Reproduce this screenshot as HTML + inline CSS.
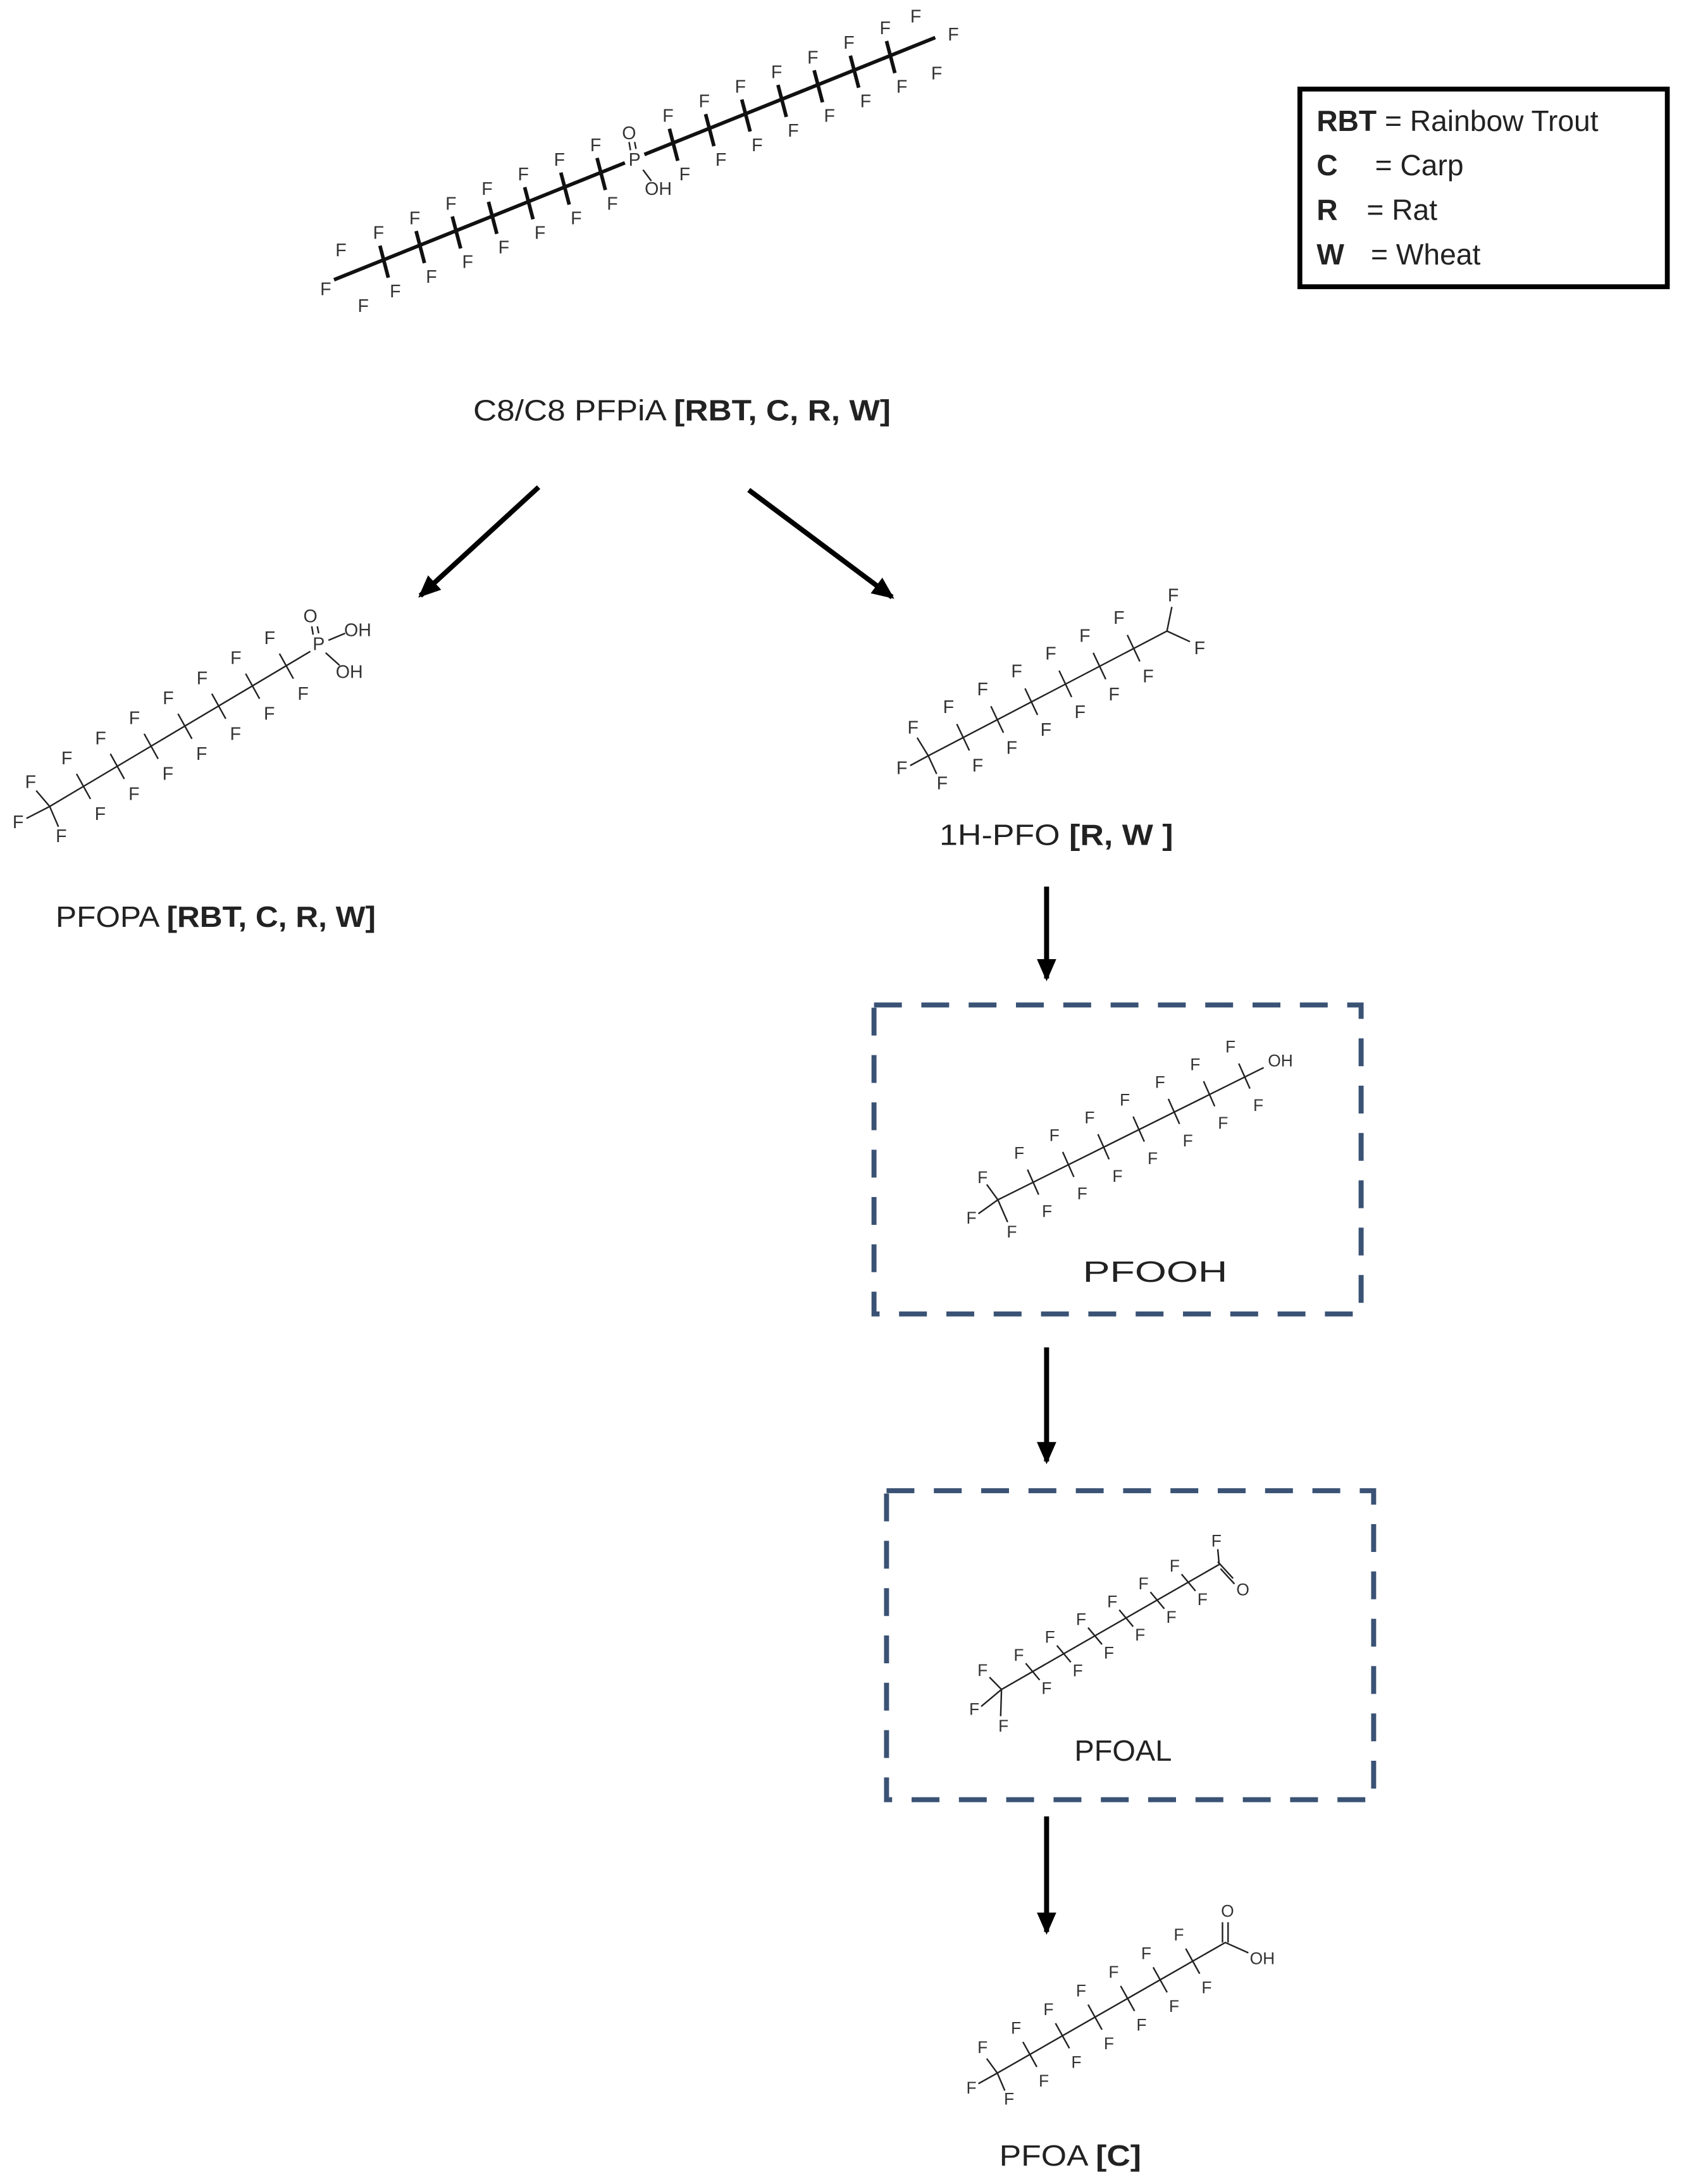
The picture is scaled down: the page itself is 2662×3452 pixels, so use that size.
<!DOCTYPE html>
<html><head><meta charset="utf-8"><style>
html,body{margin:0;padding:0;background:#fff}
svg{display:block}
.f{font-family:"Liberation Sans",sans-serif;font-size:13px;fill:#333;text-anchor:middle;dominant-baseline:central}
.s{font-size:12px}
.l{font-family:"Liberation Sans",sans-serif;font-size:21px;fill:#222}
.b{font-weight:bold}
.bd{stroke:#222;fill:none;stroke-width:1.1}
.tk{stroke:#111;fill:none;stroke-width:2.6}
.ar{stroke:#000;stroke-width:3.6;fill:none}
.dash{stroke:#3a5274;stroke-width:3.6;fill:none;stroke-dasharray:20 14}
</style></head><body>
<svg width="2662" height="3452" viewBox="0 0 1210 1569.09" xmlns="http://www.w3.org/2000/svg">
<defs><marker id="ah" markerWidth="16" markerHeight="14" refX="14" refY="7" orient="auto" markerUnits="userSpaceOnUse"><path d="M0,0 L16,7 L0,14 Z" fill="#000"/></marker></defs>

<!-- Legend -->
<rect x="934" y="64" width="264" height="142" fill="none" stroke="#000" stroke-width="3.5"/>
<text class="l" x="946" y="94"><tspan class="b">RBT</tspan> = Rainbow Trout</text>
<text class="l" x="946" y="126"><tspan class="b">C</tspan></text><text class="l" x="988" y="126">= Carp</text>
<text class="l" x="946" y="158"><tspan class="b">R</tspan></text><text class="l" x="982" y="158">= Rat</text>
<text class="l" x="946" y="190"><tspan class="b">W</tspan></text><text class="l" x="985" y="190">= Wheat</text>

<!-- Top molecule -->
<path class="tk" d="M240,201 L449,117 M463,111 L672,27"/>
<path class="tk" d="M273,176.5L279,199.5M299,166L305,189M325,155.5L331,178.5M351,145L357,168M377,134.5L383,157.5M403,124L409,147M429,113.5L435,136.5M481,92.5L487,115.5M507,82L513,105M533,71.5L539,94.5M559,61L565,84M585,50.5L591,73.5M611,40L617,63M637,29.5L643,52.5"/>
<path class="bd" d="M453,108 L452,102 M457,107 L456,102 M462,122 L468,130"/>
<g class="f">
<text x="245" y="180">F</text><text x="234" y="208">F</text><text x="261" y="220">F</text>
<text x="272" y="167.5">F</text><text x="284" y="209.5">F</text>
<text x="298" y="157">F</text><text x="310" y="199">F</text>
<text x="324" y="146.5">F</text><text x="336" y="188.5">F</text>
<text x="350" y="136">F</text><text x="362" y="178">F</text>
<text x="376" y="125.5">F</text><text x="388" y="167.5">F</text>
<text x="402" y="115">F</text><text x="414" y="157">F</text>
<text x="428" y="104.5">F</text><text x="440" y="146.5">F</text>
<text x="456" y="115">P</text><text x="452" y="96">O</text><text x="473" y="136">OH</text>
<text x="480" y="83.5">F</text><text x="492" y="125.5">F</text>
<text x="506" y="73">F</text><text x="518" y="115">F</text>
<text x="532" y="62.5">F</text><text x="544" y="104.5">F</text>
<text x="558" y="52">F</text><text x="570" y="94">F</text>
<text x="584" y="41.5">F</text><text x="596" y="83.5">F</text>
<text x="610" y="31">F</text><text x="622" y="73">F</text>
<text x="636" y="20.5">F</text><text x="648" y="62.5">F</text>
<text x="658" y="12">F</text><text x="685" y="25">F</text><text x="673" y="53">F</text>
</g>
<text class="l" x="340" y="302" textLength="300" lengthAdjust="spacingAndGlyphs">C8/C8  PFPiA  <tspan class="b">[RBT, C, R, W]</tspan></text>

<!-- arrows -->
<line class="ar" x1="387" y1="350" x2="302" y2="428" marker-end="url(#ah)"/>
<line class="ar" x1="538" y1="352" x2="641" y2="429" marker-end="url(#ah)"/>
<line class="ar" x1="752" y1="637" x2="752" y2="703" marker-end="url(#ah)"/>
<line class="ar" x1="752" y1="968" x2="752" y2="1050" marker-end="url(#ah)"/>
<line class="ar" x1="752" y1="1305" x2="752" y2="1388" marker-end="url(#ah)"/>

<!-- PFOPA -->
<path class="bd" d="M35.7,579.4 L223,468 M35.7,579.4L26,568 M35.7,579.4L19,588 M35.7,579.4L42,594 M55,556L65,574M79.3,541.6L89.3,559.6M103.6,527.2L113.6,545.2M127.9,512.8L137.9,530.8M152.2,498.4L162.2,516.4M176.5,484L186.5,502M200.8,469.6L210.8,487.6 M225,456L224,450 M229,455L228,450 M236,460L248,455 M234,469L244,478"/>
<g class="f">
<text x="22" y="562">F</text><text x="13" y="591">F</text><text x="44" y="601">F</text>
<text x="48" y="545">F</text><text x="72" y="585">F</text>
<text x="72.3" y="530.6">F</text><text x="96.3" y="570.6">F</text>
<text x="96.6" y="516.2">F</text><text x="120.6" y="556.2">F</text>
<text x="120.9" y="501.8">F</text><text x="144.9" y="541.8">F</text>
<text x="145.2" y="487.4">F</text><text x="169.2" y="527.4">F</text>
<text x="169.5" y="473">F</text><text x="193.5" y="513">F</text>
<text x="193.8" y="458.6">F</text><text x="217.8" y="498.6">F</text>
<text x="229" y="463">P</text><text x="223" y="443">O</text><text x="257" y="453">OH</text><text x="251" y="483">OH</text>
</g>
<text class="l" x="40" y="666" textLength="230" lengthAdjust="spacingAndGlyphs">PFOPA  <tspan class="b">[RBT, C, R, W]</tspan></text>

<!-- 1H-PFO -->
<path class="bd" d="M667,543 L838.5,453.4 L842,436 M838.5,453.4 L855,461 M667,543L659,530 M667,543L654,550 M667,543L673,556 M687.5,520.2L696.5,539.2M712,507.4L721,526.4M736.5,494.6L745.5,513.6M761,481.8L770,500.8M785.5,469L794.5,488M810,456.2L819,475.2"/>
<g class="f">
<text x="656" y="523">F</text><text x="648" y="552">F</text><text x="677" y="563">F</text>
<text x="681.5" y="508.2">F</text><text x="702.5" y="550.2">F</text>
<text x="706" y="495.4">F</text><text x="727" y="537.4">F</text>
<text x="730.5" y="482.6">F</text><text x="751.5" y="524.6">F</text>
<text x="755" y="469.8">F</text><text x="776" y="511.8">F</text>
<text x="779.5" y="457">F</text><text x="800.5" y="499">F</text>
<text x="804" y="444.2">F</text><text x="825" y="486.2">F</text>
<text x="843" y="428">F</text><text x="862" y="466">F</text>
</g>
<text class="l" x="675" y="607" textLength="168" lengthAdjust="spacingAndGlyphs">1H-PFO  <tspan class="b">[R, W ]</tspan></text>

<!-- PFOOH box -->
<rect class="dash" x="628" y="722" width="350" height="222"/>
<path class="bd" d="M717,862 L908,767 M717,862L709,851 M717,862L703,872 M717,862L724,878 M738.3,840.3L746.3,858.3M763.6,827.6L771.6,845.6M788.9,814.9L796.9,832.9M814.2,802.2L822.2,820.2M839.5,789.5L847.5,807.5M864.8,776.8L872.8,794.8M890.1,764.1L898.1,782.1"/>
<g class="f s">
<text x="706" y="846">F</text><text x="698" y="875">F</text><text x="727" y="885">F</text>
<text x="732.3" y="828.3">F</text><text x="752.3" y="870.3">F</text>
<text x="757.6" y="815.6">F</text><text x="777.6" y="857.6">F</text>
<text x="782.9" y="802.9">F</text><text x="802.9" y="844.9">F</text>
<text x="808.2" y="790.2">F</text><text x="828.2" y="832.2">F</text>
<text x="833.5" y="777.5">F</text><text x="853.5" y="819.5">F</text>
<text x="858.8" y="764.8">F</text><text x="878.8" y="806.8">F</text>
<text x="884.1" y="752.1">F</text><text x="904.1" y="794.1">F</text>
<text x="920" y="762">OH</text>
</g>
<text class="l" x="778" y="921" textLength="104" lengthAdjust="spacingAndGlyphs">PFOOH</text>

<!-- PFOAL box -->
<rect class="dash" x="637" y="1071" width="350" height="222"/>
<path class="bd" d="M719.6,1213.8 L876,1124 L875,1113 M877,1127 L887,1138 M875,1122 L886,1134 M719.6,1213.8L711,1205 M719.6,1213.8L705,1226 M719.6,1213.8L719,1233 M737,1195L747,1207M759.4,1182.2L769.4,1194.2M781.8,1169.4L791.8,1181.4M804.2,1156.6L814.2,1168.6M826.6,1143.8L836.6,1155.8M849,1131L859,1143"/>
<g class="f s">
<text x="706" y="1200">F</text><text x="700" y="1228">F</text><text x="721" y="1240">F</text>
<text x="732" y="1189">F</text><text x="752" y="1213">F</text>
<text x="754.4" y="1176.2">F</text><text x="774.4" y="1200.2">F</text>
<text x="776.8" y="1163.4">F</text><text x="796.8" y="1187.4">F</text>
<text x="799.2" y="1150.6">F</text><text x="819.2" y="1174.6">F</text>
<text x="821.6" y="1137.8">F</text><text x="841.6" y="1161.8">F</text>
<text x="844" y="1125">F</text><text x="864" y="1149">F</text>
<text x="874" y="1107">F</text><text x="893" y="1142">O</text>
</g>
<text class="l" x="772" y="1265" textLength="70" lengthAdjust="spacingAndGlyphs">PFOAL</text>

<!-- PFOA -->
<path class="bd" d="M716.6,1489.4 L880.4,1395.6 L897,1403 M878.4,1395.6 L878.4,1381 M882.4,1395.6 L882.4,1381 M716.6,1489.4L709,1479 M716.6,1489.4L703,1497 M716.6,1489.4L722,1502 M735,1467L745,1485M758.4,1453.6L768.4,1471.6M781.8,1440.2L791.8,1458.2M805.2,1426.8L815.2,1444.8M828.6,1413.4L838.6,1431.4M852,1400L862,1418"/>
<g class="f s">
<text x="706" y="1471">F</text><text x="698" y="1500">F</text><text x="725" y="1508">F</text>
<text x="730" y="1457">F</text><text x="750" y="1495">F</text>
<text x="753.4" y="1443.6">F</text><text x="773.4" y="1481.6">F</text>
<text x="776.8" y="1430.2">F</text><text x="796.8" y="1468.2">F</text>
<text x="800.2" y="1416.8">F</text><text x="820.2" y="1454.8">F</text>
<text x="823.6" y="1403.4">F</text><text x="843.6" y="1441.4">F</text>
<text x="847" y="1390">F</text><text x="867" y="1428">F</text>
<text x="882" y="1373">O</text><text x="907" y="1407">OH</text>
</g>
<text class="l" x="718" y="1556" textLength="102" lengthAdjust="spacingAndGlyphs">PFOA  <tspan class="b">[C]</tspan></text>
</svg>
</body></html>
